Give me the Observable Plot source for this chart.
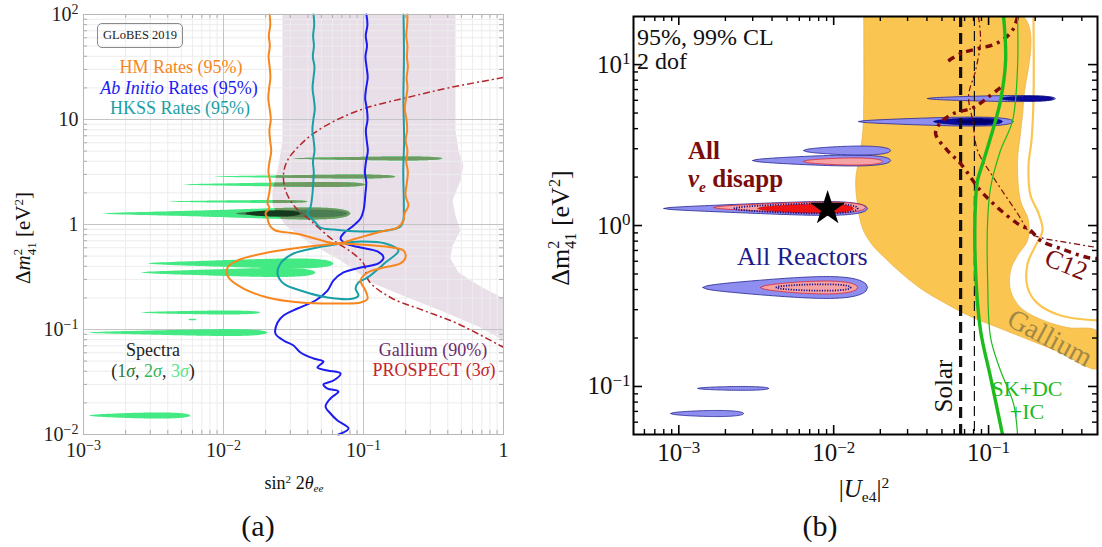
<!DOCTYPE html>
<html>
<head>
<meta charset="utf-8">
<script src="https://cdn.jsdelivr.net/npm/d3@7"></script>
<script src="https://cdn.jsdelivr.net/npm/@observablehq/plot@0.6"></script>
<style>
  html, body { margin: 0; background: #fff; }
  #fig { position: relative; width: 1102px; height: 547px; overflow: hidden;
         font-family: "Liberation Serif", "DejaVu Serif", serif; color: #111; }
  #fig .panel { position: absolute; top: 0; }
  #fig .lbl { position: absolute; white-space: nowrap; line-height: 1; transform: translate(-50%, -50%); }
  #fig .lbl.left { transform: translate(0, -50%); }
  .ss { display: inline-block; vertical-align: -0.45em; font-size: 0.62em; line-height: 1.05; text-align: left; }
  .ss > span { display: block; }
  .sp { font-size: 0.62em; position: relative; top: -0.55em; }
  .sb { font-size: 0.62em; position: relative; top: 0.3em; }
  .box { position: absolute; border: 1px solid #8a8a8a; border-radius: 5px; box-sizing: border-box;
         display: flex; align-items: center; justify-content: center; font-size: 12.5px; color: #222; }
</style>
</head>
<body>
<div id="fig"></div>
<script>
// ===== Panel (a): points are [log10 sin²2θee, log10 Δm²41] =====
const galliumA = [
  [-1.579, 2], [-1.579, 0.8], [-1.607, 0.562], [-1.65, 0.324], [-1.65, 0.181], [-1.557, -0.01],
  [-1.379, -0.181], [-1.164, -0.343], [-0.929, -0.562], [-0.686, -0.695], [-0.45, -0.819],
  [-0.164, -0.981], [0, -1.105], [0, -0.705], [-0.164, -0.59], [-0.321, -0.457], [-0.379, -0.324],
  [-0.364, -0.2], [-0.307, -0.057], [-0.343, 0.086], [-0.364, 0.229], [-0.307, 0.419],
  [-0.286, 0.562], [-0.321, 0.705], [-0.343, 0.895], [-0.343, 2]
];
const prospectA = [
  [0, 1.4], [-0.379, 1.305], [-0.686, 1.21], [-0.971, 1.114], [-1.186, 1.0], [-1.357, 0.867],
  [-1.471, 0.733], [-1.543, 0.61], [-1.571, 0.486], [-1.557, 0.324], [-1.486, 0.162],
  [-1.379, 0.038], [-1.214, -0.152], [-1.093, -0.257], [-1.0, -0.371], [-0.964, -0.533],
  [-0.807, -0.695], [-0.571, -0.819], [-0.329, -0.943], [0, -1.171]
];
const hmUpperA = [
  [-1.671, 2.0], [-1.666, 1.9], [-1.676, 1.8], [-1.669, 1.7], [-1.678, 1.6], [-1.670, 1.5],
  [-1.665, 1.4], [-1.674, 1.3], [-1.680, 1.2], [-1.670, 1.1], [-1.662, 1.0], [-1.672, 0.9],
  [-1.667, 0.8], [-1.659, 0.7], [-1.671, 0.6], [-1.679, 0.5], [-1.666, 0.4], [-1.673, 0.3],
  [-1.686, 0.2], [-1.672, 0.16], [-1.700, 0.105], [-1.686, 0.06], [-1.679, 0.02], [-1.664, -0.02],
  [-1.629, -0.057], [-1.55, -0.075], [-1.45, -0.095], [-1.33, -0.14], [-1.186, -0.181],
  [-1.07, -0.14], [-0.95, -0.095], [-0.85, -0.06], [-0.757, -0.029], [-0.714, 0.038],
  [-0.707, 0.105], [-0.679, 0.181], [-0.700, 0.276], [-0.690, 0.4], [-0.683, 0.5], [-0.695, 0.6],
  [-0.686, 0.7], [-0.699, 0.8], [-0.688, 0.9], [-0.693, 1.0], [-0.705, 1.1], [-0.696, 1.2],
  [-0.686, 1.3], [-0.692, 1.4], [-0.683, 1.5], [-0.690, 1.6], [-0.686, 1.7], [-0.695, 1.8],
  [-0.688, 1.9], [-0.686, 2.0]
];
const hmLoopA = [
  [-1.186, -0.181], [-1.45, -0.219], [-1.686, -0.267], [-1.9, -0.343], [-1.971, -0.41],
  [-1.964, -0.505], [-1.857, -0.61], [-1.686, -0.695], [-1.45, -0.743], [-1.164, -0.752],
  [-1.021, -0.743], [-0.971, -0.705], [-0.986, -0.629], [-1.021, -0.533], [-0.971, -0.457],
  [-0.857, -0.41], [-0.736, -0.371], [-0.7, -0.314], [-0.714, -0.248], [-0.843, -0.21],
  [-1.021, -0.19], [-1.186, -0.181]
];
const hkssUpperA = [
  [-1.357, 2.0], [-1.352, 1.9], [-1.360, 1.8], [-1.354, 1.7], [-1.362, 1.6], [-1.350, 1.5],
  [-1.357, 1.4], [-1.364, 1.3], [-1.355, 1.2], [-1.348, 1.1], [-1.358, 1.0], [-1.365, 0.9],
  [-1.356, 0.8], [-1.350, 0.7], [-1.361, 0.6], [-1.355, 0.5], [-1.359, 0.4], [-1.364, 0.3],
  [-1.379, 0.162], [-1.4, 0.105], [-1.379, 0.067], [-1.343, 0.019], [-1.307, -0.029],
  [-1.214, -0.048], [-1.021, -0.067], [-0.829, -0.057], [-0.736, -0.019], [-0.716, 0.038],
  [-0.712, 0.2], [-0.716, 0.5], [-0.710, 0.8], [-0.715, 1.2], [-0.711, 1.6], [-0.714, 2.0]
];
const hkssLoopA = [
  [-1.164, -0.181], [-1.329, -0.219], [-1.5, -0.276], [-1.593, -0.371], [-1.614, -0.467],
  [-1.571, -0.562], [-1.45, -0.629], [-1.257, -0.695], [-1.071, -0.705], [-1.036, -0.676],
  [-1.057, -0.61], [-1.036, -0.552], [-0.971, -0.505], [-0.843, -0.362], [-0.75, -0.248],
  [-0.843, -0.181], [-1.021, -0.162], [-1.164, -0.181]
];
const abInitioA = [
  [-0.979, 2.0], [-0.972, 1.9], [-0.984, 1.8], [-0.975, 1.7], [-0.986, 1.6], [-0.978, 1.5],
  [-0.970, 1.4], [-0.981, 1.3], [-0.988, 1.2], [-0.976, 1.1], [-0.971, 1.0], [-0.983, 0.9],
  [-0.977, 0.8], [-0.969, 0.7], [-0.982, 0.6], [-0.990, 0.5], [-0.980, 0.4], [-0.986, 0.3],
  [-1.0, 0.133], [-1.021, 0.057], [-1.071, -0.01], [-1.143, -0.086], [-1.164, -0.133],
  [-1.129, -0.181], [-1.021, -0.219], [-0.9, -0.257], [-0.857, -0.314], [-0.893, -0.371],
  [-1.021, -0.41], [-1.143, -0.457], [-1.214, -0.533], [-1.257, -0.629], [-1.343, -0.724],
  [-1.471, -0.8], [-1.571, -0.867], [-1.614, -0.933], [-1.629, -1.038], [-1.571, -1.105],
  [-1.5, -1.152], [-1.45, -1.219], [-1.357, -1.276], [-1.286, -1.305], [-1.329, -1.362],
  [-1.257, -1.39], [-1.164, -1.419], [-1.214, -1.486], [-1.286, -1.524], [-1.257, -1.562],
  [-1.179, -1.59], [-1.236, -1.657], [-1.271, -1.733], [-1.236, -1.8], [-1.186, -1.867],
  [-1.107, -1.943], [-1.179, -2.0]
];
// Spectral fit islands: [log10 x from, log10 x to, log10 Δm² centre, half-thickness in decades]
const spectra3A = [
  [-1.507, -0.436, 0.629, 0.019], [-2.071, -0.771, 0.457, 0.019], [-2.293, -0.986, 0.381, 0.024],
  [-2.393, -1.4, 0.219, 0.014], [-2.864, -1.093, 0.105, 0.057], [-2.543, -1.214, -0.371, 0.048],
  [-2.593, -1.343, -0.457, 0.043], [-2.593, -1.736, -0.838, 0.019], [-2.25, -2.193, -0.905, 0.008],
  [-2.964, -1.686, -1.029, 0.033], [-2.964, -2.236, -1.819, 0.029]
];
const spectra2A = [[-1.914, -1.114, 0.105, 0.036]];
const spectra1A = [[-1.843, -1.45, 0.105, 0.03]];
const ticksAx = {"-3": "10^−3", "-2": "10^−2", "-1": "10^−1", "0": "1"};
const ticksAy = {"-2": "10^−2", "-1": "10^−1", "0": "1", "1": "10", "2": "10^2"};

// ===== Panel (b): points are [log10 |Ue4|², log10 Δm²41] =====
const galliumB = [
  [-1.806, 1.298], [-1.806, 0.776], [-1.813, 0.571], [-1.839, 0.404], [-1.858, 0.28],
  [-1.845, 0.124], [-1.813, -0.019], [-1.748, -0.124], [-1.665, -0.205], [-1.568, -0.292],
  [-1.439, -0.391], [-1.277, -0.484], [-1.116, -0.565], [-0.923, -0.64], [-0.729, -0.714],
  [-0.535, -0.789], [-0.297, -0.888], [-0.297, -0.658], [-0.49, -0.634], [-0.645, -0.59],
  [-0.794, -0.509], [-0.858, -0.404], [-0.858, -0.28], [-0.813, -0.186], [-0.748, -0.093],
  [-0.742, 0.031], [-0.794, 0.155], [-0.813, 0.404], [-0.794, 0.571], [-0.774, 0.776], [-0.774, 1.298]
];
const galliumLineB = [
  [-0.71, 1.298], [-0.71, 0.776], [-0.723, 0.528], [-0.742, 0.373], [-0.729, 0.186], [-0.677, 0.075],
  [-0.652, -0.031], [-0.703, -0.137], [-0.748, -0.236], [-0.748, -0.385], [-0.684, -0.484],
  [-0.535, -0.559], [-0.297, -0.59]
];
const reactorsOuterB = [
  [-2.523, -1.632, 0.404, 0.034], [-2.194, -1.632, 0.466, 0.028], [-3.097, -1.781, 0.106, 0.043],
  [-2.845, -1.781, -0.385, 0.068], [-2.877, -2.419, -1.012, 0.012], [-3.052, -2.581, -1.168, 0.019],
  [-1.394, -0.568, 0.789, 0.019], [-1.839, -0.839, 0.646, 0.028]
];
const reactorsInnerB = [[-0.923, -0.581, 0.789, 0.016], [-1.355, -0.910, 0.646, 0.022]];
const reactorsCoreB = [[-1.213, -0.955, 0.646, 0.014]];
const disappOuterB = [
  [-2.194, -1.684, 0.398, 0.022], [-2.774, -1.794, 0.112, 0.034], [-2.471, -1.845, -0.385, 0.04]
];
const disappInnerB = [[-2.49, -1.871, 0.106, 0.028]];
const disappDottedB = [[-2.645, -1.845, 0.106, 0.031], [-2.374, -1.890, -0.385, 0.02]];
const bestFitB = [[-2.039, 0.106]];
const solarB = [0.066, 0.081];
const skdcicThickB = [
  [-0.903, 1.298], [-0.89, 1.025], [-0.923, 0.776], [-0.968, 0.609], [-1.032, 0.404], [-1.071, 0.28],
  [-1.084, 0.155], [-1.084, -0.28], [-1.052, -0.652], [-0.987, -0.944], [-0.91, -1.298]
];
const skdcicThinB = [
  [-0.813, 1.298], [-0.813, 0.981], [-0.845, 0.652], [-0.923, 0.466], [-0.987, 0.236], [-1.006, 0.031],
  [-1.006, -0.342], [-0.987, -0.696], [-0.923, -0.901], [-0.839, -1.106], [-0.813, -1.298]
];
const c12TopB = [
  [-0.813, 1.298], [-0.839, 1.224], [-0.890, 1.168], [-0.968, 1.124], [-1.071, 1.099], [-1.181, 1.068], [-1.277, 1.012]
];
const c12OuterB = [
  [-0.923, 0.857], [-1.006, 0.795], [-1.097, 0.733], [-1.226, 0.696], [-1.310, 0.64], [-1.342, 0.571],
  [-1.265, 0.466], [-1.181, 0.385], [-1.052, 0.217], [-0.942, 0.112], [-0.813, 0.012], [-0.729, -0.031],
  [-0.665, -0.093], [-0.535, -0.143], [-0.361, -0.199], [-0.297, -0.205]
];
const c12InnerB = [
  [-1.065, 1.298], [-1.052, 1.149], [-1.084, 0.963], [-1.129, 0.807], [-1.103, 0.652], [-1.071, 0.466],
  [-0.968, 0.298], [-0.813, 0.075], [-0.729, -0.05], [-0.665, -0.075], [-0.49, -0.106], [-0.297, -0.137]
];
const ticksBx = {"-3": "10^−3", "-2": "10^−2", "-1": "10^−1"};
const ticksBy = {"-1": "10^−1", "0": "10^0", "1": "10^1"};

// ---------- helpers ----------
const pts = (a) => a.map(([lx, ly]) => ({x: 10 ** lx, y: 10 ** ly}));
const closed = (a) => pts(a.concat([a[0]]));

// Outline of an island that is elliptical in linear x, drawn on the log axes.
function island([lx1, lx2, ly, h]) {
  const x1 = 10 ** lx1, x2 = 10 ** lx2, n = 40, xs = [];
  for (let i = 0; i <= n; i++) { xs.push(10 ** (lx1 + (lx2 - lx1) * i / n)); xs.push(x1 + (x2 - x1) * i / n); }
  xs.sort((a, b) => a - b);
  const top = [], bottom = [];
  for (const x of xs) {
    const t = Math.min(1, Math.max(0, (x - x1) / (x2 - x1)));
    const w = 2 * h * Math.sqrt(t * (1 - t));
    top.push({x, y: 10 ** (ly + w)});
    bottom.push({x, y: 10 ** (ly - w)});
  }
  return top.concat(bottom.reverse());
}
const islands = (list, tag) => list.flatMap((e, i) => island(e).map((p) => ({...p, id: tag + i})));
const minors = (lo, hi) => d3.range(-5, 3).flatMap((e) => d3.range(2, 10).map((k) => k * 10 ** e))
  .filter((v) => v > lo * 1.02 && v < hi / 1.02);
const decades = (lo, hi) => d3.range(-5, 3).map((e) => 10 ** e).filter((v) => v >= lo / 1.001 && v <= hi * 1.001);

function edgeTicks(xs, ys, xd, yd, len, style) {
  return [
    Plot.ruleX(xs, {x: (d) => d, y1: yd[0], y2: yd[0], insetTop: -len, ...style}),
    Plot.ruleX(xs, {x: (d) => d, y1: yd[1], y2: yd[1], insetBottom: -len, ...style}),
    Plot.ruleY(ys, {y: (d) => d, x1: xd[0], x2: xd[0], insetRight: -len, ...style}),
    Plot.ruleY(ys, {y: (d) => d, x1: xd[1], x2: xd[1], insetLeft: -len, ...style})
  ];
}
// Tick labels written as "10^e" get a raised exponent.
function styleTicks(svg, size, supSize) {
  d3.select(svg).selectAll('g[aria-label$="tick label"] text').each(function () {
    const t = d3.select(this).style("font-size", size);
    const s = this.textContent, k = s.indexOf("^");
    if (k < 0) return;
    t.text(null);
    t.append("tspan").text(s.slice(0, k));
    t.append("tspan").attr("dy", "-0.5em").style("font-size", supSize).text(s.slice(k + 1));
  });
}

const fig = document.getElementById("fig");
function addPanel(svg, left) {
  const d = document.createElement("div");
  d.className = "panel"; d.style.left = left + "px";
  d.appendChild(svg); fig.appendChild(d);
}
function label(html, x, y, css = "", cls = "lbl") {
  const d = document.createElement("div");
  d.className = cls; d.innerHTML = html;
  d.style.left = x + "px"; d.style.top = y + "px";
  d.style.cssText += css;
  fig.appendChild(d);
  return d;
}

// ---------- panel (a) ----------
const xdA = [1e-3, 1], ydA = [1e-2, 1e2];
const galliumFillA = "#e9dfe9", greenBright = "#43e982", greenOlive = "#6f9b63";
const svgA = Plot.plot({
  width: 520, height: 470,
  marginLeft: 83, marginRight: 17, marginTop: 14, marginBottom: 36,
  x: {type: "log", domain: xdA, ticks: decades(...xdA), tickFormat: (d) => ticksAx[Math.round(Math.log10(d))],
      tickSize: 0, tickPadding: 8, label: null},
  y: {type: "log", domain: ydA, ticks: decades(...ydA), tickFormat: (d) => ticksAy[Math.round(Math.log10(d))],
      tickSize: 0, tickPadding: 5, label: null},
  style: {fontFamily: "Liberation Serif, serif", fontSize: "20px", color: "#222", background: "transparent"},
  marks: [
    Plot.line(closed(galliumA), {x: "x", y: "y", fill: galliumFillA, stroke: "none"}),
    Plot.ruleX(minors(...xdA), {stroke: "#ececec", strokeWidth: 1}),
    Plot.ruleY(minors(...ydA), {stroke: "#ececec", strokeWidth: 1}),
    Plot.ruleX(decades(...xdA).slice(1, -1), {stroke: "#c4c4c4", strokeWidth: 1}),
    Plot.ruleY(decades(...ydA).slice(1, -1), {stroke: "#c4c4c4", strokeWidth: 1}),
    ...edgeTicks(minors(...xdA), minors(...ydA), xdA, ydA, 4, {stroke: "#9a9a9a", strokeWidth: 0.8}),
    Plot.line(islands(spectra3A, "s3"), {x: "x", y: "y", z: "id", fill: greenBright, stroke: "none"}),
    Plot.line(islands(spectra3A, "s3o"), {x: "x", y: "y", z: "id", fill: greenOlive, stroke: "none"}),
    Plot.line(islands(spectra2A, "s2"), {x: "x", y: "y", z: "id", fill: "#4a7d52", stroke: "none"}),
    Plot.line(islands(spectra1A, "s1"), {x: "x", y: "y", z: "id", fill: "#15391d", stroke: "none"}),
    Plot.line(pts(prospectA), {x: "x", y: "y", stroke: "#b3262c", strokeWidth: 1.5, strokeDasharray: "7 3 2 3",
      strokeLinecap: "butt", curve: "catmull-rom", clip: true}),
    Plot.line(pts(abInitioA), {x: "x", y: "y", stroke: "#1c1cf2", strokeWidth: 2, curve: "catmull-rom"}),
    Plot.line(pts(hkssUpperA), {x: "x", y: "y", stroke: "#1a9fa6", strokeWidth: 2, curve: "catmull-rom"}),
    Plot.line(pts(hkssLoopA), {x: "x", y: "y", stroke: "#1a9fa6", strokeWidth: 2, curve: "catmull-rom"}),
    Plot.line(pts(hmUpperA), {x: "x", y: "y", stroke: "#f7861e", strokeWidth: 2, curve: "catmull-rom"}),
    Plot.line(pts(hmLoopA), {x: "x", y: "y", stroke: "#f7861e", strokeWidth: 2, curve: "catmull-rom"}),
    Plot.frame({stroke: "#b8b8b8", strokeWidth: 1})
  ]
});
// Spectral islands take the muted tint where they lie inside the Gallium band.
{
  const s = d3.select(svgA);
  const band = s.select(`g[fill="${galliumFillA}"] path`);
  const olive = s.select(`g[fill="${greenOlive}"]`);
  if (!band.empty() && !olive.empty()) {
    const defs = s.insert("defs", ":first-child");
    defs.append("clipPath").attr("id", "gallium-clip-a").append("path").attr("d", band.attr("d"));
    olive.attr("clip-path", "url(#gallium-clip-a)");
  }
}
styleTicks(svgA, "20px", "14px");
addPanel(svgA, 0);

// ---------- panel (b) ----------
const xdB = [5.1e-4, 0.505], ydB = [0.0503, 19.9];
const svgB = Plot.plot({
  width: 552, height: 470,
  marginLeft: 83, marginRight: 5, marginTop: 16, marginBottom: 36,
  x: {type: "log", domain: xdB, ticks: decades(...xdB), tickFormat: (d) => ticksBx[Math.round(Math.log10(d))],
      tickSize: 0, tickPadding: 9, label: null},
  y: {type: "log", domain: ydB, ticks: decades(...ydB), tickFormat: (d) => ticksBy[Math.round(Math.log10(d))],
      tickSize: 0, tickPadding: 3, label: null},
  style: {fontFamily: "Liberation Serif, serif", fontSize: "25px", color: "#111", background: "transparent"},
  marks: [
    Plot.line(closed(galliumB), {x: "x", y: "y", fill: "#fbc551", stroke: "#e9b043", strokeWidth: 0.7, curve: "catmull-rom", clip: true}),
    Plot.line(pts(galliumLineB), {x: "x", y: "y", stroke: "#fbc551", strokeWidth: 2.2, curve: "catmull-rom", clip: true}),
    Plot.line(islands(reactorsOuterB, "ro"), {x: "x", y: "y", z: "id", fill: "#8e8ef0", stroke: "#23238f", strokeWidth: 0.8}),
    Plot.line(islands(disappOuterB, "do"), {x: "x", y: "y", z: "id", fill: "#f6a3a6", stroke: "#d8262e", strokeWidth: 0.8}),
    Plot.line(islands(disappInnerB, "di"), {x: "x", y: "y", z: "id", fill: "#ef1313", stroke: "#c80e0e", strokeWidth: 0.6}),
    Plot.line(islands(reactorsInnerB, "ri"), {x: "x", y: "y", z: "id", fill: "#0a0a9c", stroke: "#06066e", strokeWidth: 0.6}),
    Plot.line(islands(reactorsCoreB, "rc"), {x: "x", y: "y", z: "id", fill: "#000068", stroke: "none"}),
    Plot.line(islands(disappDottedB, "dd"), {x: "x", y: "y", z: "id", fill: "none", stroke: "#14148a", strokeWidth: 1.8,
      strokeDasharray: "1.2 1.4", strokeLinecap: "butt"}),
    Plot.ruleX([solarB[0]], {stroke: "#111", strokeWidth: 3.2, strokeDasharray: "11 6", strokeLinecap: "butt"}),
    Plot.ruleX([solarB[1]], {stroke: "#111", strokeWidth: 1.2, strokeDasharray: "10 5", strokeLinecap: "butt"}),
    Plot.line(pts(c12TopB), {x: "x", y: "y", stroke: "#7d0a0a", strokeWidth: 3.5, strokeDasharray: "7 5 3 5",
      strokeLinecap: "butt", curve: "catmull-rom", clip: true}),
    Plot.line(pts(c12OuterB), {x: "x", y: "y", stroke: "#7d0a0a", strokeWidth: 3.5, strokeDasharray: "7 5 3 5",
      strokeLinecap: "butt", curve: "catmull-rom", clip: true}),
    Plot.line(pts(c12InnerB), {x: "x", y: "y", stroke: "#7d0a0a", strokeWidth: 1.2, strokeDasharray: "6 3 2 3",
      strokeLinecap: "butt", curve: "catmull-rom", clip: true}),
    Plot.line(pts(skdcicThinB), {x: "x", y: "y", stroke: "#1dbb1d", strokeWidth: 1.2, curve: "catmull-rom", clip: true}),
    Plot.line(pts(skdcicThickB), {x: "x", y: "y", stroke: "#1dbb1d", strokeWidth: 3.4, curve: "catmull-rom", clip: true}),
    Plot.dot(pts(bestFitB), {x: "x", y: "y", symbol: "star", r: 11, fill: "#000", stroke: "none"}),
    ...edgeTicks(minors(...xdB), minors(...ydB), xdB, ydB, 5, {stroke: "#000", strokeWidth: 1.4}),
    ...edgeTicks(decades(...xdB), decades(...ydB), xdB, ydB, 9, {stroke: "#000", strokeWidth: 1.6}),
    Plot.frame({stroke: "#000", strokeWidth: 2})
  ]
});
styleTicks(svgB, "25px", "17px");
addPanel(svgB, 550);

// ---------- annotations, panel (a) ----------
const bx = document.createElement("div");
bx.className = "box"; bx.textContent = "GLoBES 2019";
Object.assign(bx.style, {left: "97px", top: "23px", width: "86px", height: "25px"});
fig.appendChild(bx);
label("HM Rates (95%)", 181, 67, "font-size:18px;color:#f7861e;");
label("<i>Ab Initio</i> Rates (95%)", 179, 88, "font-size:18px;color:#1c1cf2;");
label("HKSS Rates (95%)", 180, 108, "font-size:18px;color:#1a9fa6;");
label("Spectra", 153, 350, "font-size:18px;color:#222;");
label('(<span style="color:#2d7a3a">1<i>σ</i></span>, <span style="color:#35b458">2<i>σ</i></span>, <span style="color:#58e68e">3<i>σ</i></span>)',
      153, 371, "font-size:18px;color:#222;");
label("Gallium (90%)", 433, 350, "font-size:18px;color:#6c2d6c;");
label("PROSPECT (3<i>σ</i>)", 434, 370, "font-size:18px;color:#c3262b;");
label('Δ<i>m</i><span class="ss"><span>2</span><span>41</span></span> [eV<span class="sp">2</span>]', 25, 238,
      "font-size:21px;transform:translate(-50%,-50%) rotate(-90deg);");
label('sin<span class="sp">2</span> 2<i>θ</i><span class="sb"><i>ee</i></span>', 294, 483, "font-size:18px;");
label("(a)", 258, 526, "font-size:30px;");

// ---------- annotations, panel (b) ----------
label("95%, 99% CL", 637, 37, "font-size:24px;", "lbl left");
label("2 dof", 637, 61, "font-size:24px;", "lbl left");
label("All", 688, 150, "font-size:25px;font-weight:bold;color:#7a0c0c;", "lbl left");
label('<i>ν</i><span class="sb"><i>e</i></span> disapp', 688, 178, "font-size:25px;font-weight:bold;color:#7a0c0c;", "lbl left");
label("All Reactors", 737, 257, "font-size:26px;color:#1c1c8c;", "lbl left");
label("Solar", 943, 386, "font-size:25px;color:#111;transform:translate(-50%,-50%) rotate(-90deg);");
label("SK+DC", 1027, 389, "font-size:22px;color:#1dbb1d;");
label("+IC", 1027, 412, "font-size:22px;color:#1dbb1d;");
label("Gallium", 1050, 338, "font-size:28px;color:#a08848;transform:translate(-50%,-50%) rotate(28deg);");
label("C12", 1066, 265, "font-size:26px;color:#7a0c0c;transform:translate(-50%,-50%) rotate(22deg);");
label('Δm<span class="ss"><span>2</span><span>41</span></span> [eV<span class="sp">2</span>]', 563, 228,
      "font-size:26px;transform:translate(-50%,-50%) rotate(-90deg);");
label('|<i>U</i><span class="sb">e4</span>|<span class="sp">2</span>', 864, 488, "font-size:25px;");
label("(b)", 820, 526, "font-size:30px;");
</script>
</body>
</html>
